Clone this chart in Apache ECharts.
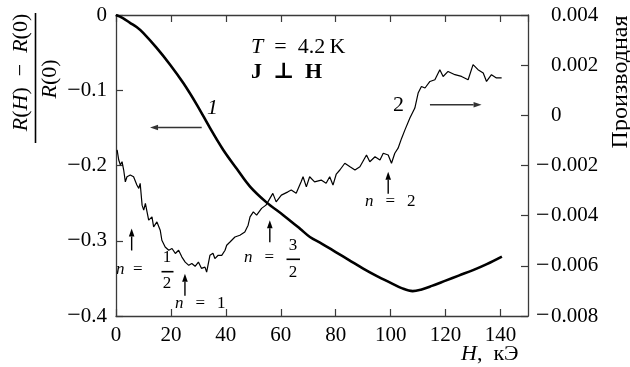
<!DOCTYPE html>
<html><head><meta charset="utf-8">
<script src="https://cdn.jsdelivr.net/npm/echarts@6/dist/echarts.min.js"></script>
<style>html,body{margin:0;padding:0;background:#fff}#c{width:630px;height:367px}</style>
</head><body><div id="c"></div>
<script>
// Curve 1: relative magnetoresistance (R(H) - R(0)) / R(0), left axis
const fieldR = [0, 2.5, 5.1, 7.5, 9.9, 14.8, 19.7, 24.5, 29.4, 34.2, 39.0, 43.9, 48.8, 54.8, 60.9, 67.0, 70.6,
  75, 80, 85, 90, 95, 100, 104, 108, 111, 115, 120, 125, 130, 135, 140.5];
const resistanceRatio = [0, -0.004, -0.0104, -0.016, -0.0237, -0.0437, -0.066, -0.0904, -0.119, -0.150, -0.179,
  -0.204, -0.228, -0.249, -0.266, -0.284, -0.295, -0.304, -0.315, -0.326, -0.337, -0.347, -0.356, -0.363, -0.367,
  -0.365, -0.360, -0.353, -0.346, -0.339, -0.331, -0.321];

// Curve 2: derivative, right axis
const fieldD = [0.4, 1.0, 1.6, 2.2, 2.8, 3.4, 4.0, 5.2, 6.4, 7.6,
  8.3, 8.8, 9.5, 10.1, 10.7, 11.3, 11.9, 13.1, 13.7, 14.9,
  16.1, 16.7, 17.9, 19.2, 20.4, 21.6, 22.8, 24.0, 25.2, 26.5,
  27.6, 28.8, 30.0, 31.1, 32.4, 33.0, 34.2, 35.3, 36.0, 37.2,
  38.5, 39.7, 40.3, 41.5, 43.3, 45.1, 46.9, 48.1, 48.8, 50.0,
  51.2, 53.0, 53.5, 54.6, 55.3, 57.1, 58.3, 60.2, 62.6, 63.8,
  65.6, 67.4, 68.1, 69.3, 70.5, 72.3, 74.7, 76.5, 77.8, 79.0,
  80.2, 81.5, 83.3, 85.2, 87.0, 88.8, 91.2, 92.4, 94.3, 96.1,
  97.3, 99.1, 100.3, 101.5, 102.7, 104.0, 105.2, 107.0, 108.8, 110.0,
  111.2, 112.5, 114.3, 116.1, 117.9, 119.1, 120.9, 123.4, 125.8, 128.2,
  130.0, 131.8, 133.7, 134.9, 136.7, 138.5, 140.4];
const derivative = [-0.00138, -0.00178, -0.00198, -0.00185, -0.00218, -0.00265, -0.00245, -0.00238, -0.00245, -0.00278,
  -0.00291, -0.00271, -0.00358, -0.00378, -0.00351, -0.00385, -0.00418, -0.00405, -0.00445, -0.00425,
  -0.00458, -0.00498, -0.00525, -0.00538, -0.00531, -0.00551, -0.00538, -0.00565, -0.00585, -0.00598,
  -0.00591, -0.00602, -0.00585, -0.00610, -0.00605, -0.00625, -0.00558, -0.00550, -0.00571, -0.00558,
  -0.00558, -0.00538, -0.00518, -0.00505, -0.00485, -0.00478, -0.00465, -0.00438, -0.00405, -0.00385,
  -0.00398, -0.00371, -0.00378, -0.00358, -0.00345, -0.00311, -0.00345, -0.00318, -0.00305, -0.00298,
  -0.00311, -0.00265, -0.00245, -0.00285, -0.00245, -0.00265, -0.00258, -0.00271, -0.00245, -0.00278,
  -0.00234, -0.00218, -0.00191, -0.00205, -0.00218, -0.00205, -0.00158, -0.00185, -0.00165, -0.00178,
  -0.00151, -0.00158, -0.00191, -0.00151, -0.00131, -0.00091, -0.00058, -0.00011, 0.00029, 0.00089,
  0.00115, 0.00109, 0.00135, 0.00142, 0.00182, 0.00155, 0.00175, 0.00162, 0.00155, 0.00142,
  0.00202, 0.00182, 0.00169, 0.00135, 0.00162, 0.00149, 0.00149];

// Axis ranges and tick steps
const fieldRange = [0, 150], fieldStep = 20;
const ratioRange = [-0.4, 0], ratioStep = 0.1;
const derivRange = [-0.008, 0.004], derivStep = 0.002;

// Commensurability markers: field and ratio value at the arrow tip
const markers = [
  { h: 5.7, tip: -0.2837 },
  { h: 25.1, tip: -0.3437 },
  { h: 56.0, tip: -0.2727 },
  { h: 99.1, tip: -0.2083 }
];

const FONT = "'Liberation Serif', 'DejaVu Serif', 'Times New Roman', serif";
const AX = '#3a3a3a';
const chart = echarts.init(document.getElementById('c'), null, { renderer: 'canvas' });

const minus = '\u2212';
const axisLineStyle = { onZero: false, lineStyle: { color: AX, width: 1.3 } };
const tickStyle = { show: true, inside: true, length: 7, lineStyle: { color: AX, width: 1.2 } };
const numRich = {
  m: { fontFamily: FONT, fontSize: 24, color: '#000', width: 15 },
  s: { fontFamily: FONT, fontSize: 21, width: 15 },
  d: { fontFamily: FONT, fontSize: 21, color: '#000' }
};

chart.setOption({
  animation: false,
  backgroundColor: '#fff',
  grid: { left: 116, right: 102, top: 15, bottom: 51, containLabel: false },
  xAxis: [
    {
      type: 'value', position: 'bottom', min: fieldRange[0], max: fieldRange[1], interval: fieldStep,
      axisLine: axisLineStyle, axisTick: tickStyle, splitLine: { show: false },
      axisLabel: { fontFamily: FONT, fontSize: 21, color: '#000', margin: 9, showMaxLabel: false,
        formatter: v => (v > 140 ? '' : String(v)) }
    },
    {
      type: 'value', position: 'top', min: fieldRange[0], max: fieldRange[1], interval: fieldStep,
      axisLine: axisLineStyle, axisTick: tickStyle, splitLine: { show: false }, axisLabel: { show: false }
    }
  ],
  yAxis: [
    {
      type: 'value', position: 'left', min: ratioRange[0], max: ratioRange[1], interval: ratioStep,
      axisLine: { show: true, ...axisLineStyle }, axisTick: tickStyle, splitLine: { show: false },
      axisLabel: { fontFamily: FONT, fontSize: 21, color: '#000', margin: 9,
        formatter: v => (Math.abs(v) < 1e-9 ? '{d|0}' : '{m|' + minus + '}{d|' + Math.abs(v).toFixed(1) + '}'),
        rich: numRich }
    },
    {
      type: 'value', position: 'right', min: derivRange[0], max: derivRange[1], interval: derivStep,
      axisLine: { show: true, ...axisLineStyle }, axisTick: tickStyle, splitLine: { show: false },
      axisLabel: { fontFamily: FONT, fontSize: 21, color: '#000', margin: 8, align: 'left',
        formatter: v => {
          if (Math.abs(v) < 1e-9) return '{s|}{d|0}';
          const a = Math.abs(v).toFixed(3);
          return v < 0 ? '{m|' + minus + '}{d|' + a + '}' : '{s|}{d|' + a + '}';
        },
        rich: numRich }
    }
  ],
  series: [
    {
      type: 'line', xAxisIndex: 0, yAxisIndex: 0, smooth: 0.35, symbol: 'none',
      lineStyle: { color: '#000', width: 2.6 },
      data: fieldR.map((h, i) => [h, resistanceRatio[i]]), z: 3
    },
    {
      type: 'line', xAxisIndex: 0, yAxisIndex: 1, smooth: false, symbol: 'none',
      lineStyle: { color: '#000', width: 1.2 },
      data: fieldD.map((h, i) => [h, derivative[i]]), z: 2
    }
  ]
});

// Annotations: arrows anchored in data space, texts next to them
const px = (h, v) => chart.convertToPixel({ seriesIndex: 0 }, [h, v]);
function arrow(a, b, color) {
  const dx = b[0] - a[0], dy = b[1] - a[1], L = Math.hypot(dx, dy), ux = dx / L, uy = dy / L;
  const hl = 8, hw = 2.8;
  const base = [b[0] - ux * hl, b[1] - uy * hl];
  return [
    { type: 'line', silent: true, shape: { x1: a[0], y1: a[1], x2: base[0], y2: base[1] },
      style: { stroke: color, lineWidth: 1.4 } },
    { type: 'polygon', silent: true,
      shape: { points: [b, [base[0] - uy * hw, base[1] + ux * hw], [base[0] + uy * hw, base[1] - ux * hw]] },
      style: { fill: color } }
  ];
}
function txt(x, y, text, size, opts) {
  return { type: 'text', silent: true, x: x, y: y,
    style: Object.assign({ text: text, fontFamily: FONT, fontSize: size, fill: '#000',
      align: 'left', verticalAlign: 'middle' }, opts || {}) };
}
const it = (s) => ({ fontFamily: FONT, fontSize: s, fontStyle: 'italic', fill: '#000' });

const g = [];
// Curve direction arrows
g.push(...arrow(px(31.2, -0.1496), px(12.4, -0.1496), '#333'));
g.push(...arrow(px(114.3, -0.1193), px(133.1, -0.1193), '#333'));
g.push(txt(207, 108.5, '1', 22, { fontStyle: 'italic' }));
g.push(txt(393, 105.5, '2', 22));

// Conditions
g.push(txt(251, 47, '{i|T}\u2002=\u20024.2\u2009K', 22, { rich: { i: it(22) } }));
g.push(txt(251, 72.5, 'J\u2002\u22a5\u2002H', 22, { fontWeight: 'bold' }));

// Commensurability arrows and labels
const FS = 17;
markers.forEach(m => {
  const tip = px(m.h, m.tip);
  g.push(...arrow([tip[0], tip[1] + 22], tip, '#000'));
});
// n = 1/2
g.push(txt(116, 270, '{i|n}\u2002=', FS, { rich: { i: it(FS) } }));
g.push(txt(167, 257.5, '1', FS, { align: 'center' }));
g.push({ type: 'line', silent: true, shape: { x1: 161.5, y1: 271.7, x2: 173.5, y2: 271.7 }, style: { stroke: '#000', lineWidth: 1.6 } });
g.push(txt(167, 283.5, '2', FS, { align: 'center' }));
// n = 1
g.push(txt(175, 304, '{i|n}\u2002\u2009=\u2002\u20091', FS, { rich: { i: it(FS) } }));
// n = 3/2
g.push(txt(244, 258, '{i|n}\u2002\u2009=', FS, { rich: { i: it(FS) } }));
g.push(txt(293, 245.5, '3', FS, { align: 'center' }));
g.push({ type: 'line', silent: true, shape: { x1: 286.5, y1: 259.3, x2: 300, y2: 259.3 }, style: { stroke: '#000', lineWidth: 1.6 } });
g.push(txt(293, 272.5, '2', FS, { align: 'center' }));
// n = 2
g.push(txt(365, 202, '{i|n}\u2002\u2009=\u2002\u20092', FS, { rich: { i: it(FS) } }));

// Axis titles
g.push(txt(461, 354.5, '{i|H},\u2002\u043a\u042d', 22, { rich: { i: it(22) } }));
g.push({
  type: 'group', x: 35.5, y: 78, rotation: Math.PI / 2, silent: true,
  children: [
    { type: 'text', x: 5.5, y: -14, style: { text: '{i|R}({i|H})\u2002\u2212\u2002{i|R}(0)', align: 'center', verticalAlign: 'middle',
      fontFamily: FONT, fontSize: 22, fill: '#000', rich: { i: it(22) } } },
    { type: 'line', shape: { x1: -65, y1: 0, x2: 65, y2: 0 }, style: { stroke: '#000', lineWidth: 1.6 } },
    { type: 'text', x: -1, y: 14.5, style: { text: '{i|R}(0)', align: 'center', verticalAlign: 'middle',
      fontFamily: FONT, fontSize: 22, fill: '#000', rich: { i: it(22) } } }
  ]
});
g.push({
  type: 'text', x: 621, y: 82, rotation: Math.PI / 2, silent: true,
  style: { text: '\u041f\u0440\u043e\u0438\u0437\u0432\u043e\u0434\u043d\u0430\u044f', align: 'center', verticalAlign: 'middle',
    fontFamily: FONT, fontSize: 24, fill: '#000' }
});

chart.setOption({ graphic: g });
</script>
</body></html>
